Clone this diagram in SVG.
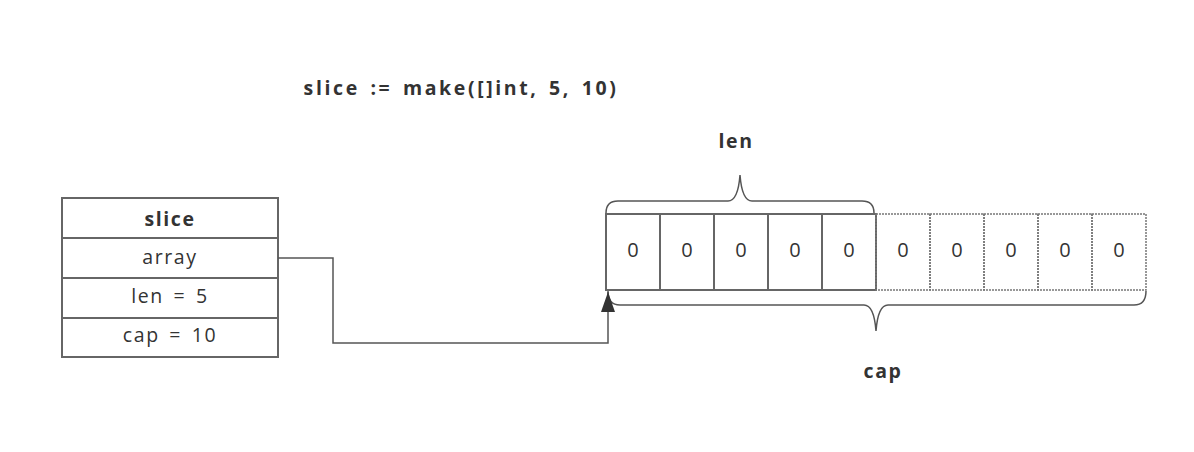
<svg xmlns="http://www.w3.org/2000/svg" width="1194" height="452" viewBox="0 0 1194 452">
  <style>
    text { font-family: "Open Sans", "Liberation Sans", sans-serif; fill: #333; text-anchor: middle; }
    .title { font-size: 19.5px; font-weight: bold; letter-spacing: 2.6px; word-spacing: 3px; }
    .head { font-size: 19.5px; font-weight: bold; letter-spacing: 1.6px; }
    .field { font-size: 19.5px; letter-spacing: 1.6px; word-spacing: 3px; }
    .cellv { font-size: 20px; }
    .box { fill: #fff; stroke: #666; stroke-width: 2; }
    .dot { fill: none; stroke: #777; stroke-width: 1.5; stroke-dasharray: 2 1; }
    .brace { fill: none; stroke: #555; stroke-width: 1.5; }
    .conn { fill: none; stroke: #555; stroke-width: 1.5; }
  </style>
  <defs>
    <marker id="arrowBig" viewBox="0 0 20 14" refX="20" refY="7" markerWidth="20" markerHeight="14" markerUnits="userSpaceOnUse" orient="auto">
      <path d="M0,0 L20,7 L0,14 z" fill="#333"/>
    </marker>
  </defs>
  <rect width="1194" height="452" fill="#fff"/>

  <text class="title" x="461" y="95">slice := make([]int, 5, 10)</text>

  <!-- slice header struct -->
  <g id="slice-struct">
    <rect class="box" x="62" y="198" width="216" height="40"/>
    <rect class="box" x="62" y="238" width="216" height="40"/>
    <rect class="box" x="62" y="278" width="216" height="40"/>
    <rect class="box" x="62" y="318" width="216" height="39"/>
    <text class="head" x="170" y="226">slice</text>
    <text class="field" x="170" y="264">array</text>
    <text class="field" x="170" y="303">len = 5</text>
    <text class="field" x="170" y="342">cap = 10</text>
  </g>

  <!-- backing array: first five elements in use -->
  <g id="array-len">
    <rect class="box" x="606" y="214" width="54" height="76"/>
    <rect class="box" x="660" y="214" width="54" height="76"/>
    <rect class="box" x="714" y="214" width="54" height="76"/>
    <rect class="box" x="768" y="214" width="54" height="76"/>
    <rect class="box" x="822" y="214" width="54" height="76"/>
    <text class="cellv" x="633" y="257">0</text>
    <text class="cellv" x="687" y="257">0</text>
    <text class="cellv" x="741" y="257">0</text>
    <text class="cellv" x="795" y="257">0</text>
    <text class="cellv" x="849" y="257">0</text>
  </g>

  <!-- backing array: spare capacity -->
  <g id="array-cap">
    <rect class="dot" x="876" y="214" width="54" height="76"/>
    <rect class="dot" x="930" y="214" width="54" height="76"/>
    <rect class="dot" x="984" y="214" width="54" height="76"/>
    <rect class="dot" x="1038" y="214" width="54" height="76"/>
    <rect class="dot" x="1092" y="214" width="54" height="76"/>
    <text class="cellv" x="903" y="257">0</text>
    <text class="cellv" x="957" y="257">0</text>
    <text class="cellv" x="1011" y="257">0</text>
    <text class="cellv" x="1065" y="257">0</text>
    <text class="cellv" x="1119" y="257">0</text>
  </g>

  <!-- len brace -->
  <g id="len-brace">
    <path class="brace" d="M606,213 Q606,201 618,201 L728,201 Q738,201 740,175 Q742,201 752,201 L862,201 Q874,201 874,213"/>
    <text class="head" x="736" y="148">len</text>
  </g>

  <!-- cap brace -->
  <g id="cap-brace">
    <path class="brace" d="M608,291 Q608,305 620,305 L864,305 Q874,305 876,331 Q878,305 888,305 L1134,305 Q1146,305 1146,291"/>
    <text class="head" x="883" y="378">cap</text>
  </g>

  <g id="connectors">
    <path class="conn" d="M278,258 L333,258 L333,343 L608,343 L608,292" marker-end="url(#arrowBig)"/>
  </g>
</svg>
